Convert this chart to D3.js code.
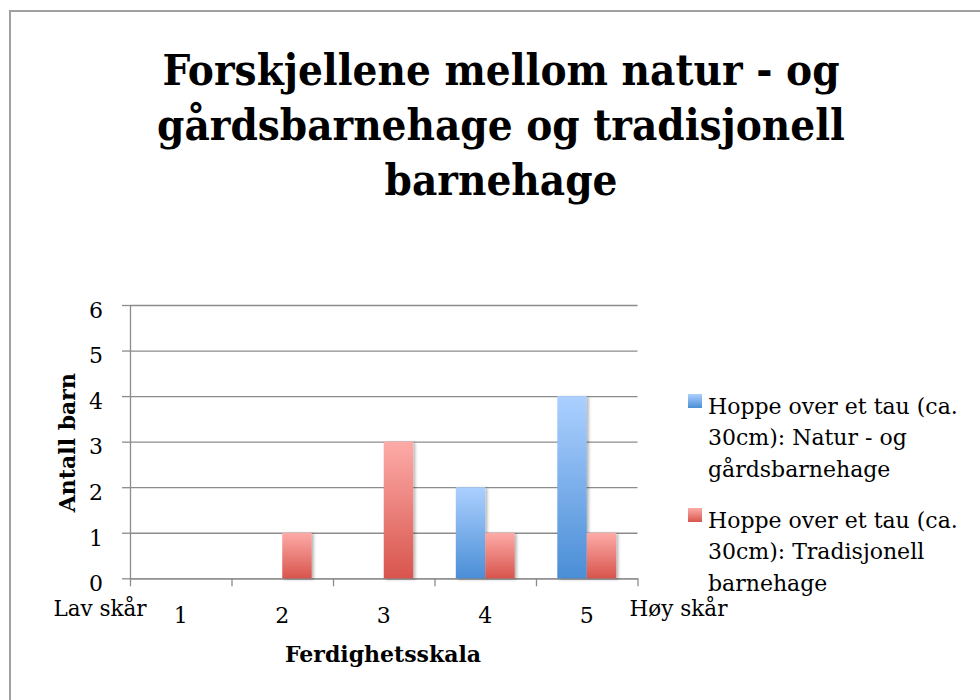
<!DOCTYPE html>
<html>
<head>
<meta charset="utf-8">
<script src="https://cdn.jsdelivr.net/npm/d3@7"></script>
<style>
    body { margin: 0; background: #fff; }
    svg { display: block; }
    text { font-family: 'DejaVu Serif', serif; fill: #000; }
</style>
</head>
<body>
<svg id="chart" width="980" height="700"></svg>
<script>
const titleLines = ['Forskjellene mellom natur - og', 'gårdsbarnehage og tradisjonell', 'barnehage'];
const categories = ['1', '2', '3', '4', '5'];
const seriesKeys = ['natur', 'tradisjonell'];
const naturValues = [0, 0, 0, 2, 4];
const tradisjonellValues = [0, 1, 3, 1, 1];
const yTicks = [0, 1, 2, 3, 4, 5, 6];
const scaleEnds = ['Lav skår', 'Høy skår'];
const legendLines = [
    ['Hoppe over et tau (ca.', '30cm): Natur - og', 'gårdsbarnehage'],
    ['Hoppe over et tau (ca.', '30cm): Tradisjonell', 'barnehage'],
];
const yTitle = 'Antall barn';
const xTitle = 'Ferdighetsskala';

const width = 980;
const height = 700;
const plot = { left: 130, right: 637.5, top: 305, bottom: 578.3 };
const gridColor = '#8c8c8c';

const svg = d3.select('#chart');
const defs = svg.append('defs');

// gradients: light at the top, darker at the bottom
const gradients = {
    natur: ['#acd0ff', '#4a8ed6'],
    tradisjonell: ['#fdaba8', '#d8554d'],
};
Object.entries(gradients).forEach(([key, stops]) => {
    const g = defs.append('linearGradient')
        .attr('id', `grad-${key}`)
        .attr('x1', 0).attr('y1', 0)
        .attr('x2', 0).attr('y2', 1);
    g.append('stop').attr('offset', '0%').attr('stop-color', stops[0]);
    g.append('stop').attr('offset', '100%').attr('stop-color', stops[1]);
});

defs.append('filter')
    .attr('id', 'shadow')
    .attr('x', '-20%').attr('y', '-20%')
    .attr('width', '150%').attr('height', '150%')
    .append('feDropShadow')
    .attr('dx', 2).attr('dy', 1)
    .attr('stdDeviation', 1.5)
    .attr('flood-color', '#000')
    .attr('flood-opacity', 0.3);

svg.append('rect')
    .attr('width', width).attr('height', height)
    .attr('fill', '#fff');

// outer frame, runs off the right and bottom edge
svg.append('rect')
    .attr('x', 10).attr('y', 11)
    .attr('width', width + 20).attr('height', height + 20)
    .attr('fill', 'none')
    .attr('stroke', '#a0a0a0')
    .attr('stroke-width', 2);

svg.append('text')
    .attr('text-anchor', 'middle')
    .style('font-size', '43.5px')
    .style('font-weight', 'bold')
    .style('font-stretch', 'condensed')
    .style('font-family', "'DejaVu Serif Condensed', 'DejaVu Serif', serif")
    .selectAll('tspan')
    .data(titleLines)
    .join('tspan')
    .attr('x', 501)
    .attr('y', (d, i) => 85 + i * 55)
    .text(d => d);

const x = d3.scaleBand()
    .domain(categories)
    .range([plot.left, plot.right]);

const y = d3.scaleLinear()
    .domain([0, 6])
    .range([plot.bottom, plot.top]);

const barW = x.bandwidth() * 0.29;
const xs = d3.scaleBand()
    .domain(seriesKeys)
    .range([x.bandwidth() / 2 - barW, x.bandwidth() / 2 + barW]);

// gridlines
const grid = svg.append('g')
    .attr('transform', `translate(${plot.left},0)`)
    .call(d3.axisLeft(y)
        .tickValues(yTicks)
        .tickSize(-(plot.right - plot.left))
        .tickFormat(''));
grid.select('.domain').remove();
grid.selectAll('line')
    .attr('stroke', gridColor)
    .attr('stroke-width', 1.3);

// y axis with labels
const yAxis = svg.append('g')
    .attr('transform', `translate(${plot.left},0)`)
    .call(d3.axisLeft(y)
        .tickValues(yTicks)
        .tickSize(8)
        .tickSizeOuter(0)
        .tickPadding(19)
        .tickFormat(d3.format('d')));
yAxis.select('.domain').attr('stroke', gridColor).attr('stroke-width', 1.3);
yAxis.selectAll('line').attr('stroke', gridColor).attr('stroke-width', 1.3);
yAxis.selectAll('text')
    .attr('dy', '0.56em')
    .style('font-size', '22px')
    .style('font-family', "'DejaVu Serif', serif")
    .attr('fill', '#000');

// x axis: ticks on the category boundaries
const xEdge = d3.scaleLinear()
    .domain([0, categories.length])
    .range([plot.left, plot.right]);
const xAxis = svg.append('g')
    .attr('transform', `translate(0,${plot.bottom})`)
    .call(d3.axisBottom(xEdge)
        .tickValues(d3.range(categories.length + 1))
        .tickSize(8)
        .tickSizeOuter(0)
        .tickFormat(''));
xAxis.select('.domain').attr('stroke', gridColor).attr('stroke-width', 1.3);
xAxis.selectAll('line').attr('stroke', gridColor).attr('stroke-width', 1.3);

const xLabels = svg.append('g')
    .attr('transform', `translate(0,${plot.bottom})`)
    .call(d3.axisBottom(x).tickSize(0));
xLabels.select('.domain').remove();
xLabels.selectAll('text')
    .attr('dy', null)
    .attr('y', 44.5)
    .style('font-size', '22px')
    .style('font-family', "'DejaVu Serif', serif")
    .attr('fill', '#000');

// Lav skår / Høy skår at the ends of the scale
svg.selectAll('.scale-end')
    .data(scaleEnds)
    .join('text')
    .attr('class', 'scale-end')
    .attr('x', (d, i) => (i === 0 ? x.range()[0] - 30 : x.range()[1] + 41))
    .attr('y', 616)
    .attr('text-anchor', 'middle')
    .style('font-size', '21.5px')
    .text(d => d);

// bars
const rows = categories.map((c, i) => ({
    category: c,
    natur: naturValues[i],
    tradisjonell: tradisjonellValues[i],
}));

svg.append('g')
    .selectAll('g')
    .data(rows)
    .join('g')
    .attr('transform', d => `translate(${x(d.category)},0)`)
    .selectAll('rect')
    .data(d => seriesKeys.map(key => ({ key, value: d[key] })).filter(d => d.value > 0))
    .join('rect')
    .attr('x', d => xs(d.key))
    .attr('y', d => y(d.value))
    .attr('width', xs.bandwidth())
    .attr('height', d => y(0) - y(d.value))
    .attr('fill', d => `url(#grad-${d.key})`)
    .attr('filter', 'url(#shadow)');

// axis titles
svg.append('text')
    .attr('transform', `translate(75,${(plot.top + plot.bottom) / 2 + 1}) rotate(-90)`)
    .attr('text-anchor', 'middle')
    .style('font-size', '22px')
    .style('font-weight', 'bold')
    .text(yTitle);

svg.append('text')
    .attr('x', 383)
    .attr('y', 662)
    .attr('text-anchor', 'middle')
    .style('font-size', '22px')
    .style('font-weight', 'bold')
    .text(xTitle);

// legend
const legend = svg.append('g')
    .attr('transform', 'translate(688,0)');

const items = legend.selectAll('g')
    .data(seriesKeys)
    .join('g')
    .attr('transform', (d, i) => `translate(0,${394 + i * 114})`);

items.append('rect')
    .attr('width', 14)
    .attr('height', 14)
    .attr('fill', d => `url(#grad-${d})`);

items.append('text')
    .style('font-size', '22px')
    .selectAll('tspan')
    .data((d, i) => legendLines[i])
    .join('tspan')
    .attr('x', 20)
    .attr('y', (d, i) => 19.5 + i * 31.5)
    .text(d => d);
</script>
</body>
</html>
